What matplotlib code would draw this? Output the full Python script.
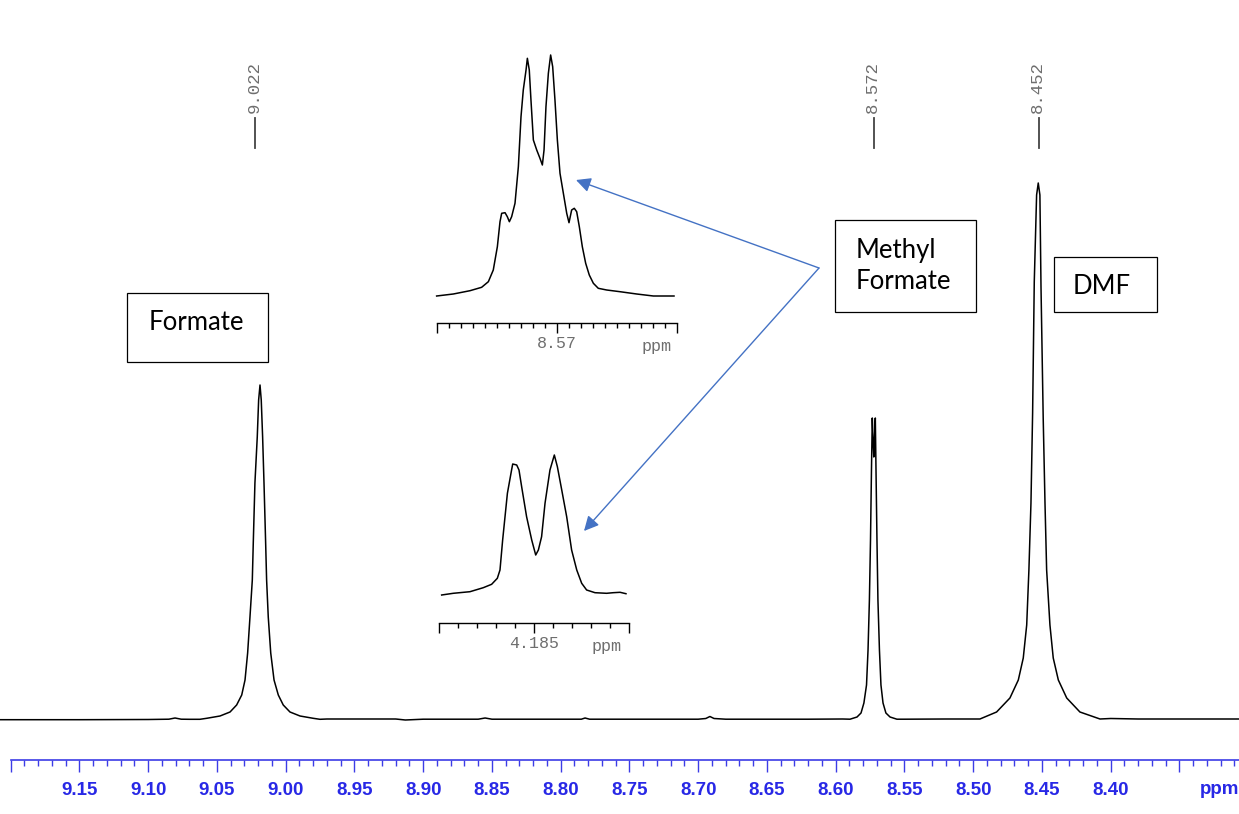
import numpy as np
import matplotlib.pyplot as plt
from matplotlib.patches import Rectangle

# ---- main 1H spectrum (ppm, intensity above baseline) ----
base_ppm = [9.2078, 9.15, 9.10, 9.085, 9.0805, 9.076, 9.070,
            8.970, 8.95, 8.92, 8.913, 8.90, 8.86, 8.855, 8.85, 8.80, 8.785,
            8.7823, 8.779, 8.70, 8.6945, 8.6915, 8.6885, 8.68, 8.62, 8.595,
            8.550, 8.52, 8.50, 8.40, 8.38, 8.35, 8.3067]
base_int = [0.3, 0.3, 0.5, 0.8, 2.0, 0.8, 0.7,
            1.0, 1.0, 1.0, 0.0, 0.8, 0.8, 2.0, 0.8, 0.8, 0.8,
            2.0, 0.8, 0.8, 1.5, 3.5, 1.5, 0.8, 0.8, 1.0,
            0.8, 1.0, 1.0, 1.5, 1.0, 1.0, 1.0]

formate_ppm = [9.0624, 9.0575, 9.0478, 9.0405, 9.0357, 9.0320, 9.0296, 9.0277,
               9.0260, 9.0243, 9.0236, 9.0224, 9.0207, 9.0197, 9.0187, 9.0178,
               9.0168, 9.0158, 9.0146, 9.0139, 9.0127, 9.0109, 9.0085, 9.0054,
               9.0018, 8.9969, 8.9896, 8.9800, 8.9751]
formate_int = [0.7, 1.7, 4, 8, 15, 25, 40, 67, 103, 140, 177, 237, 283, 320, 335,
               320, 283, 237, 177, 140, 103, 67, 40, 25, 15, 8, 4, 1.7, 0.7]

mf_ppm = [8.5896, 8.5845, 8.5816, 8.5795, 8.5776, 8.5765, 8.5755, 8.5747,
          8.5740, 8.5734, 8.5727, 8.5723, 8.5720, 8.5712, 8.5707, 8.5700,
          8.5693, 8.5682, 8.5671, 8.5656, 8.5635, 8.5605, 8.5555]
mf_int = [0.8, 3, 7, 17, 35, 70, 120, 180, 250, 302, 275, 263, 275, 302,
          250, 180, 120, 70, 35, 17, 7, 3, 0.8]

dmf_ppm = [8.4951, 8.4830, 8.4733, 8.4672, 8.4636, 8.4611, 8.4595, 8.4580,
           8.4568, 8.4556, 8.4539, 8.4527, 8.4515, 8.4507, 8.4491, 8.4478,
           8.4466, 8.4442, 8.4418, 8.4381, 8.4320, 8.4224, 8.4078]
dmf_int = [1, 8, 22, 40, 62, 95, 150, 217, 307, 438, 525, 537, 525, 433,
           302, 217, 150, 95, 62, 40, 22, 8, 1]

peak_labels = [9.022, 8.572, 8.452]

# ---- expansions (insets) ----
ins1_ppm = [8.58003, 8.57864, 8.57725, 8.57628, 8.57572, 8.57531, 8.57497, 8.57475,
            8.57461, 8.57433, 8.57414, 8.57397, 8.57378, 8.57350, 8.57322, 8.57300,
            8.57281, 8.57258, 8.57247, 8.57231, 8.57217, 8.57197, 8.57169, 8.57142,
            8.57122, 8.57108, 8.57092, 8.57072, 8.57053, 8.57036, 8.57017, 8.56997,
            8.56975, 8.56947, 8.56919, 8.56900, 8.56878, 8.56856, 8.56836, 8.56814,
            8.56789, 8.56761, 8.56731, 8.56697, 8.56656, 8.56586, 8.56475, 8.56336,
            8.56197, 8.56025]
ins1_int = [0, 2, 5.3, 8.7, 14.3, 26, 49.3, 74.3, 82.7, 83.3, 79.3, 74.3, 79.3,
            92.7, 129.3, 179.3, 206, 226, 237.7, 226, 196, 156, 146, 137.7, 131,
            146, 189.3, 222.7, 241, 229.3, 196, 156, 122.7, 102.7, 82.7, 73.3, 86,
            87.7, 84.3, 69.3, 49.3, 32.7, 21, 12.7, 7.7, 6, 4.3, 2, 0, 0]

ins2_ppm = [4.18986, 4.18925, 4.18837, 4.18767, 4.18723, 4.18693, 4.18679, 4.18665,
            4.18640, 4.18618, 4.18612, 4.18591, 4.18579, 4.18565, 4.18539, 4.18512,
            4.18491, 4.18477, 4.18460, 4.18442, 4.18416, 4.18393, 4.18377, 4.18354,
            4.18328, 4.18302, 4.18275, 4.18249, 4.18223, 4.18179, 4.18118, 4.18083,
            4.18047, 4.18016]
ins2_int = [0, 1.7, 3.3, 7.3, 10.7, 16.7, 25, 55, 101.7, 125, 131, 130, 125, 108.3,
            78.3, 55, 40, 45, 58.3, 91.7, 125, 140, 128.3, 105, 78.3, 45, 25, 11.7,
            5, 2.3, 1.7, 2.3, 2.7, 1.3]

scale_ticks = [9.20, 9.15, 9.10, 9.05, 9.00, 8.95, 8.90, 8.85, 8.80, 8.75,
               8.70, 8.65, 8.60, 8.55, 8.50, 8.45, 8.40, 8.35]
scale_labels = [''] + ['%.2f' % t for t in scale_ticks[1:-1]] + ['']

BLUE = '#2828e6'
GREY = '#6e6e6e'
ARROW = '#4472c4'
W, H = 1239, 814


def px_rect(left, top, right, bottom):
    return [left / W, (H - bottom) / H, (right - left) / W, (bottom - top) / H]


fig = plt.figure(figsize=(W / 100, H / 100), dpi=100)

# main spectrum
ax = fig.add_axes([0, 0, 1, 1])
ppm_all = np.concatenate([base_ppm, formate_ppm, mf_ppm, dmf_ppm])
int_all = np.concatenate([base_int, formate_int, mf_int, dmf_int])
order = np.argsort(ppm_all)[::-1]
ax.plot(ppm_all[order], int_all[order], color='black', lw=1.1)
ax.set_xlim(9.2078, 8.3067)
ax.set_ylim(-94, 720)
for s in ['left', 'right', 'top']:
    ax.spines[s].set_visible(False)
ax.spines['bottom'].set_position(('data', -40))
ax.spines['bottom'].set_bounds(9.2, 8.3067)
ax.spines['bottom'].set_color('#3c3ce6')
ax.spines['bottom'].set_linewidth(1.2)
ax.set_yticks([])
ax.set_xticks(scale_ticks)
ax.set_xticklabels(scale_labels, fontsize=13.5, fontweight='bold',
                   family='Liberation Sans', color=BLUE)
ax.set_xticks(np.round(np.arange(8.31, 9.205, 0.01), 2), minor=True)
ax.tick_params(axis='x', which='major', length=8.6, width=1.0, color='#3c3ce6', pad=7.5)
ax.tick_params(axis='x', which='minor', length=4.3, width=1.0, color='#3c3ce6')
ax.text(8.3350, -69, 'ppm', fontsize=13.5, fontweight='bold', family='Liberation Sans',
        color=BLUE, ha='left', va='center')

# peak picking labels
for p in peak_labels:
    ax.plot([p, p], [572, 602], color='#444444', lw=1.3)
    ax.text(p + 0.0012, 607, '%.3f' % p, rotation=90, ha='center', va='bottom',
            fontsize=12.5, family='Liberation Mono', color=GREY)


def style_inset(a, major, labels, minor, spine_y):
    a.patch.set_alpha(0)
    for s in ['left', 'right', 'top']:
        a.spines[s].set_visible(False)
    a.spines['bottom'].set_position(('data', spine_y))
    a.spines['bottom'].set_linewidth(1.0)
    a.set_yticks([])
    a.set_xticks(major)
    a.set_xticklabels(labels, fontsize=12, family='Liberation Mono', color=GREY)
    a.set_xticks(minor, minor=True)
    a.tick_params(axis='x', which='major', length=7.5, width=1.0, pad=2)
    a.tick_params(axis='x', which='minor', length=3.6, width=1.0)


# inset 1: 8.57 multiplet
ax1 = fig.add_axes(px_rect(437, 40, 677, 340))
ax1.plot(ins1_ppm, ins1_int, color='black', lw=1.1, clip_on=False)
ax1.set_xlim(8.580, 8.560)
ax1.set_ylim(-44, 256)
style_inset(ax1, [8.58, 8.57, 8.56], ['', '8.57', ''],
            np.round(np.arange(8.560, 8.5805, 0.001), 3), -27)

# inset 2: 4.185 doublet
ax2 = fig.add_axes(px_rect(439, 440, 629, 660))
ax2.plot(ins2_ppm, ins2_int, color='black', lw=1.1, clip_on=False)
ax2.set_xlim(4.190, 4.180)
ax2.set_ylim(-65, 155)
style_inset(ax2, [4.19, 4.185, 4.18], ['', '4.185', ''],
            np.round(np.arange(4.180, 4.1905, 0.001), 3), -27.7)

# overlay in pixel coordinates for boxes, arrows and texts
ov = fig.add_axes([0, 0, 1, 1])
ov.set_xlim(0, W)
ov.set_ylim(H, 0)
ov.axis('off')
ov.patch.set_alpha(0)

ov.text(657, 346, 'ppm', fontsize=12, family='Liberation Mono', color=GREY,
        ha='center', va='center')
ov.text(607, 647, 'ppm', fontsize=12, family='Liberation Mono', color=GREY,
        ha='center', va='center')

boxes = [(127, 293, 268, 362), (835, 220, 976, 312), (1054, 257, 1157, 312)]
for l, t, r, b in boxes:
    ov.add_patch(Rectangle((l, t), r - l, b - t, facecolor='white',
                           edgecolor='black', lw=0.9))
ov.text(196, 323, 'Formate', fontsize=18.5, family='Lato', ha='center', va='center')
ov.text(856, 266, 'Methyl\nFormate', fontsize=18.5, family='Lato', ha='left',
        va='center', linespacing=1.32)
ov.text(1102, 286, 'DMF', fontsize=18.5, family='Lato', ha='center', va='center')

for tip in [(576, 180), (584, 531)]:
    ov.annotate('', xy=tip, xytext=(819, 268),
                arrowprops=dict(arrowstyle='-|>', color=ARROW, lw=1.0,
                                mutation_scale=22, shrinkA=0, shrinkB=0))

fig.savefig('out.png', dpi=100)
